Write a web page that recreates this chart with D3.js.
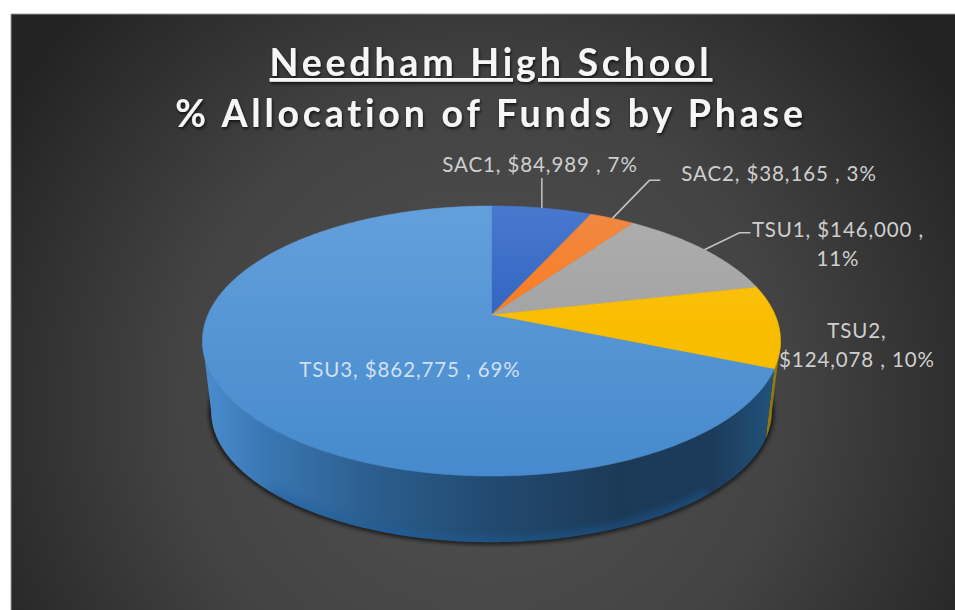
<!DOCTYPE html>
<html>
<head>
<meta charset="utf-8">
<script src="https://cdn.jsdelivr.net/npm/d3@7"></script>
<style>
  html, body { margin: 0; padding: 0; background: #fff; }
  svg { display: block; }
  text { font-family: Lato, "Open Sans", sans-serif; }
</style>
</head>
<body>
<div id="chart"></div>
<script>
// Funding phases and their dollar amounts
const phases = ["SAC1", "SAC2", "TSU1", "TSU2", "TSU3"];
const amounts = [84989, 38165, 146000, 124078, 862775];
const shares = ["7%", "3%", "11%", "10%", "69%"];
const titleLines = ["Needham High School", "% Allocation of Funds by Phase"];

const topLight = ["#4a78cf", "#f08a45", "#aeaeae", "#fcc41e", "#639fdb"];
const topDark = ["#2f64bf", "#fb7a1c", "#a3a3a3", "#f9bd00", "#468acd"];

const width = 955, height = 610;

// Tilted-disc projection: a unit circle seen in perspective, so the
// pivot sits above the middle of the ellipse it projects to.
const disc = { cx: 491.5, cy: 315, r: 283.6, a: 130, k: 0.1926 };
const thickness = { dy: 71, shrink: 0.97 };

function project(angle, radius = 1, lower = false) {
  const x = Math.sin(angle) * radius;
  const y = -Math.cos(angle) * radius;
  const w = 1 - disc.k * y;
  const s = lower ? thickness.shrink : 1;
  return [
    disc.cx + s * disc.r * x / w,
    disc.cy + (lower ? thickness.dy : 0) + s * disc.a * y / w
  ];
}

const svg = d3.select("#chart").append("svg")
  .attr("width", width).attr("height", height);
const defs = svg.append("defs");

const panelGrad = defs.append("radialGradient")
  .attr("id", "panel").attr("gradientUnits", "userSpaceOnUse")
  .attr("cx", 483).attr("cy", 400).attr("r", 560);
panelGrad.append("stop").attr("offset", 0).attr("stop-color", "#525252");
panelGrad.append("stop").attr("offset", 0.55).attr("stop-color", "#434343");
panelGrad.append("stop").attr("offset", 1).attr("stop-color", "#232323");

const sideGrad = defs.append("linearGradient")
  .attr("id", "side").attr("gradientUnits", "userSpaceOnUse")
  .attr("x1", 203).attr("x2", 781).attr("y1", 0).attr("y2", 0);
[[0, "#4a8dcf"], [0.1, "#3a78b4"], [0.3, "#2b5d8d"], [0.5, "#224a70"],
 [0.72, "#1c3a58"], [0.88, "#1c3b5a"], [1, "#21557f"]].forEach(([o, c]) =>
  sideGrad.append("stop").attr("offset", o).attr("stop-color", c));

phases.forEach((p, i) => {
  const g = defs.append("linearGradient").attr("id", "top" + i)
    .attr("gradientUnits", "userSpaceOnUse")
    .attr("x1", 0).attr("x2", 0).attr("y1", 206).attr("y2", 476);
  const bottom = i === 4 ? 1 : 0.45;
  g.append("stop").attr("offset", 0).attr("stop-color", topLight[i]);
  g.append("stop").attr("offset", bottom).attr("stop-color", topDark[i]);
});

const blur = defs.append("filter").attr("id", "soft")
  .attr("x", "-10%").attr("y", "-10%").attr("width", "120%").attr("height", "120%");
blur.append("feGaussianBlur").attr("stdDeviation", 2);
const bandBlur = defs.append("filter").attr("id", "bandSoft")
  .attr("x", "-10%").attr("y", "-30%").attr("width", "120%").attr("height", "160%");
bandBlur.append("feGaussianBlur").attr("stdDeviation", 4);
const titleGlow = defs.append("filter").attr("id", "titleShadow")
  .attr("x", "-10%").attr("y", "-30%").attr("width", "120%").attr("height", "160%");
titleGlow.append("feDropShadow").attr("dx", 1).attr("dy", 2)
  .attr("stdDeviation", 1.5).attr("flood-color", "#000").attr("flood-opacity", 0.7);

// Background panel
svg.append("rect").attr("x", 11).attr("y", 14)
  .attr("width", width - 11).attr("height", height - 14)
  .attr("fill", "url(#panel)");
svg.append("path").attr("d", `M11,${height}V14H${width}`)
  .attr("fill", "none").attr("stroke", "#9a9a9a").attr("stroke-width", 1);

const line = d3.line();
const slices = d3.pie().sort(null)(amounts);

function arcPoints(a0, a1, lower) {
  const n = Math.max(2, Math.ceil((a1 - a0) / 0.01));
  return d3.range(n + 1).map(i => project(a0 + (a1 - a0) * i / n, 1, lower));
}

// Soft shadow under the base
svg.append("path").attr("d", line(arcPoints(Math.PI / 2, 3 * Math.PI / 2, true)))
  .attr("fill", "none").attr("stroke", "#000").attr("stroke-width", 4)
  .attr("opacity", 0.8).attr("filter", "url(#soft)");

// Visible wall: the front of the rim between the two silhouette tangents
const tangent = Math.asin(disc.k);
const wallStart = Math.PI / 2 + tangent;
const wallEnd = 3 * Math.PI / 2 - tangent;
const tsu2End = slices[3].endAngle;
function wall(a0, a1) {
  return line(arcPoints(a0, a1, false).concat(arcPoints(a0, a1, true).reverse())) + "Z";
}
svg.append("path").attr("d", wall(wallStart, tsu2End)).attr("fill", "#8f7a12");
svg.append("path").attr("d", wall(tsu2End, wallEnd)).attr("fill", "url(#side)");

// Lighter band where the wall meets the base
defs.append("clipPath").attr("id", "wallClip")
  .append("path").attr("d", wall(tsu2End, wallEnd));
svg.append("g").attr("clip-path", "url(#wallClip)")
  .append("path").attr("d", line(arcPoints(2.4, 3.9, true)))
  .attr("fill", "none").attr("stroke", "#1f5f9c").attr("stroke-width", 10)
  .attr("opacity", 0.55).attr("filter", "url(#bandSoft)");

// Top face
const pivot = project(0, 0);
slices.forEach((s, i) => {
  const pts = [pivot].concat(arcPoints(s.startAngle, s.endAngle, false));
  svg.append("path").attr("d", line(pts) + "Z")
    .attr("fill", `url(#top${i})`)
    .attr("stroke", `url(#top${i})`).attr("stroke-width", 0.6);
});

// Leader lines run from each slice's mid-rim to its label
const leaders = { 0: [[0, -30]], 1: [[37, -38], [48, -38]], 2: [[35, -17], [46, -17]] };
Object.keys(leaders).forEach(k => {
  const s = slices[+k];
  const start = project((s.startAngle + s.endAngle) / 2);
  const pts = [start].concat(leaders[k].map(d => [start[0] + d[0], start[1] + d[1]]));
  svg.append("path").attr("d", line(pts)).attr("fill", "none")
    .attr("stroke", "#c4c4c4").attr("stroke-width", 1.5);
});

// Data labels
const usd = d3.format("$,");
const labelLines = [
  [`${phases[0]}, ${usd(amounts[0])} , ${shares[0]}`],
  [`${phases[1]}, ${usd(amounts[1])} , ${shares[1]}`],
  [`${phases[2]}, ${usd(amounts[2])} ,`, shares[2]],
  [`${phases[3]},`, `${usd(amounts[3])} , ${shares[3]}`],
  [`${phases[4]}, ${usd(amounts[4])} , ${shares[4]}`]
];
const labelAnchor = [[540, 172], [779, 181], [838, 237], [857, 338], [410, 377]];
const labels = svg.append("g").attr("font-size", 20.5)
  .attr("letter-spacing", 0.9).attr("text-anchor", "middle");
labelLines.forEach((ls, i) => {
  ls.forEach((t, j) => {
    labels.append("text")
      .attr("x", labelAnchor[i][0]).attr("y", labelAnchor[i][1] + j * 29)
      .attr("fill", i === 4 ? "#cfe0f2" : "#cfcfcf")
      .text(t);
  });
});

// Title
const title = svg.append("g").attr("text-anchor", "middle")
  .attr("fill", "#f6f6f6").attr("font-weight", 700).attr("font-size", 37.5)
  .attr("letter-spacing", 3.8).attr("filter", "url(#titleShadow)");
titleLines.forEach((t, i) => {
  title.append("text").attr("x", 491).attr("y", 76 + i * 51)
    .style("text-decoration", i === 0 ? "underline" : null)
    .style("text-decoration-skip-ink", "none")
    .text(t);
});
</script>
</body>
</html>
